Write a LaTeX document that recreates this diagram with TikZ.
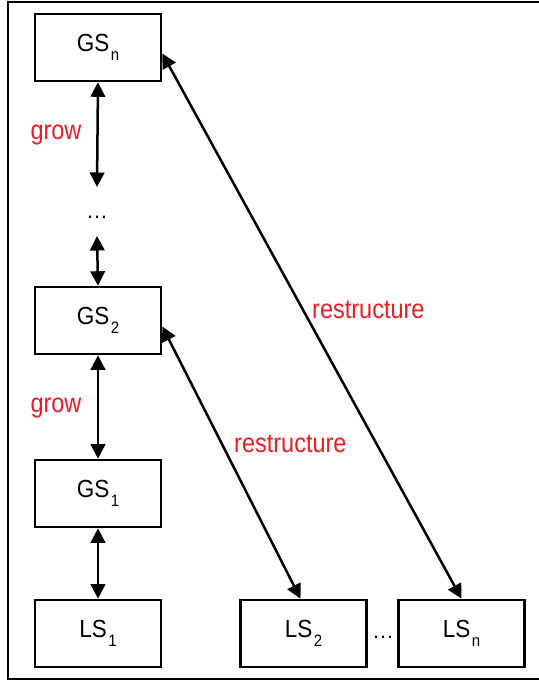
\documentclass[tikz,border=0pt]{standalone}
\usepackage{fontspec}
\setmainfont{Liberation Sans}
\usetikzlibrary{arrows.meta,calc}
\definecolor{lblred}{RGB}{237,28,36}
% name with a lowered index, e.g. GS_n
\newcommand{\sub}[2]{\scalebox{1}[1.1]{#1}\kern1.5pt\raisebox{-8.5pt}{\fontsize{15}{15}\selectfont\scalebox{1}[1.1]{#2}}}
\newcommand{\tall}[1]{\scalebox{1}[1.15]{#1}}
\tikzset{
  sbox/.style={draw, line width=2.6pt, minimum width=126pt, minimum height=67pt,
    inner sep=0pt, font=\fontsize{22.5}{26}\selectfont},
  link/.style={line width=2.5pt, {Triangle[length=14.5pt,width=14.5pt]}-{Triangle[length=14.5pt,width=14.5pt]}},
  lbl/.style={text=lblred, font=\fontsize{23.5}{28}\selectfont, inner sep=0pt},
  dotsl/.style={font=\fontsize{22}{26}\selectfont, inner sep=0pt}
}
\begin{document}
\begin{tikzpicture}[x=1pt,y=-1pt]
\useasboundingbox (0,0) rectangle (538,682);
% outer frame (its right side lies beyond the page edge)
\draw[line width=2.4pt] (539,2) -- (8,2) -- (8,679) -- (539,679);

% stack of global structures
\node[sbox] (gsn) at (98,47.5) {\sub{GS}{n}};
\node[sbox] (gs2) at (98,320.5) {\sub{GS}{2}};
\node[sbox] (gs1) at (98,493.5) {\sub{GS}{1}};

% local structures
\node[sbox] (ls1) at (98,633.5) {\sub{LS}{1}};
\node[sbox] (ls2) at (303.5,633.5) {\sub{LS}{2}};
\node[sbox] (lsn) at (461.5,633.5) {\sub{LS}{n}};

% ellipses
\node[dotsl, anchor=base] (vdots) at (97,218) {\dots};
\coordinate (dtop) at (97,187);
\coordinate (dbot) at (97,236);
\node[dotsl, anchor=base] (hdots) at (383,638) {\dots};

% vertical growth links
\draw[link] (gsn.south) -- (dtop);
\draw[link] (dbot) -- (gs2.north);
\draw[link] (gs2.south) -- (gs1.north);
\draw[link] (gs1.south) -- (ls1.north);

% restructuring links
\draw[link] ([yshift=-6pt]gsn.east) -- (lsn.north);
\draw[link] ([yshift=-6pt]gs2.east) -- ([xshift=-3pt]ls2.north);

% labels
\node[lbl] (grow1) at (56,135) {\tall{grow}};
\node[lbl] (grow2) at (56,408) {\tall{grow}};
\node[lbl, anchor=west] (rs1) at (312,310) {\tall{restructure}};
\node[lbl, anchor=west] (rs2) at (234,444) {\tall{restructure}};
\end{tikzpicture}
\end{document}
